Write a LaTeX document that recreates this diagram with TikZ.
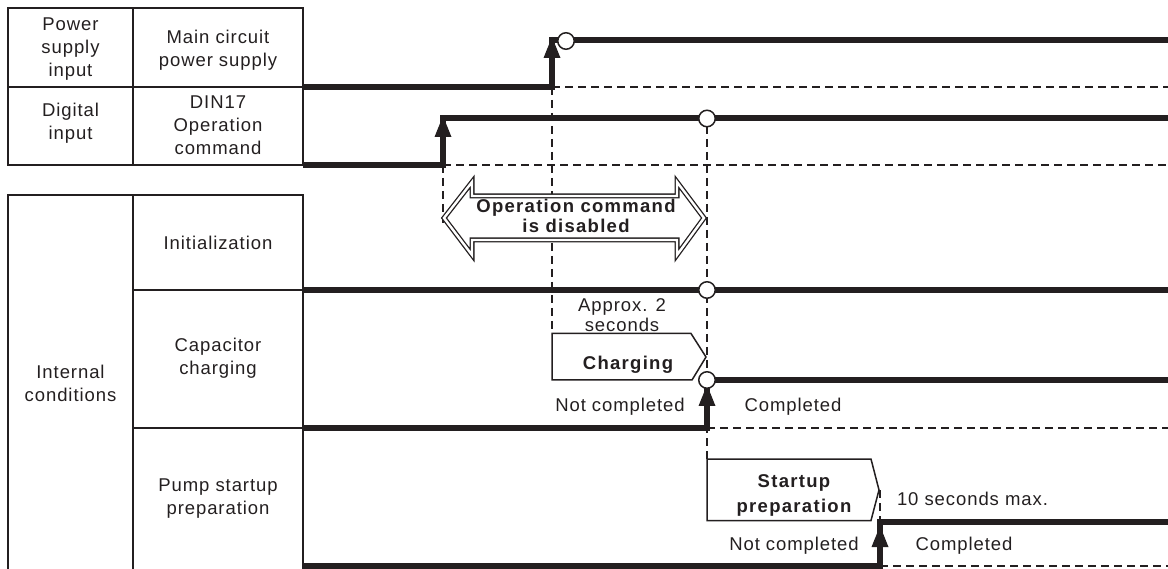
\documentclass[tikz,border=0pt]{standalone}
\usepackage{fontspec}
\setmainfont{Liberation Sans}[LetterSpace=5]
\newfontfamily\heavyface{Liberation Sans}[LetterSpace=7]
\usetikzlibrary{arrows.meta}
\definecolor{ink}{RGB}{35,31,32}
\begin{document}
\begin{tikzpicture}[x=1pt,y=-1pt,
  every node/.style={text=ink, inner sep=0pt, outer sep=0pt},
  lab/.style={font=\fontsize{18.5}{23}\selectfont, align=center},
  blab/.style={font=\heavyface\bfseries\fontsize{18.5}{20}\selectfont, align=center},
  cellbox/.style={draw=ink, line width=1.8},
  divider/.style={draw=ink, line width=2.7},
  signal/.style={draw=ink, line width=5.3, line join=miter},
  guide/.style={draw=ink, line width=1.5, dash pattern=on 8 off 5},
  edgemark/.style={circle, draw=ink, fill=white, line width=1.5, minimum size=16.5},
  phase/.style={draw=ink, line width=1.5, fill=white, line join=miter},
  risehead/.pic={\fill[ink] (0,0) -- (-8.5,21) -- (8.5,21) -- cycle;},
]
\useasboundingbox (0,0) rectangle (1168,569);
\clip (0,0) rectangle (1168,569);

% ---- label table: inputs
\draw[cellbox] (8,8) rectangle (303,165);
\draw[divider] (133,8) -- (133,165);
\draw[divider] (8,87) -- (303,87);
% ---- label table: internal conditions
\draw[cellbox] (8,195) rectangle (303,590);
\draw[divider] (133,195) -- (133,590);
\draw[divider] (133,290) -- (303,290);
\draw[divider] (133,428) -- (303,428);

\node[lab] (psi)  at (70.5,49.5) {Power\\supply\\input};
\node[lab] (mcps) at (218,50.5) {Main circuit\\power supply};
\node[lab] (dgi)  at (70.5,123) {Digital\\input};
\node[lab] (din)  at (218,125.5) {DIN17\\Operation\\command};
\node[lab] (inc)  at (70.5,383) {Internal\\conditions};
\node[lab] (ini)  at (218,243) {Initialization};
\node[lab] (cap)  at (218,358.5) {Capacitor\\charging};
\node[lab] (pump) at (218,499) {Pump startup\\preparation};

% ---- reference levels and timing guides
\draw[guide] (552,87) -- (1168,87);
\draw[guide] (443,165) -- (1168,165);
\draw[guide] (707,428) -- (1168,428);
\draw[guide] (880,566) -- (1168,566);
\draw[guide] (443,165) -- (443,223);
\draw[guide] (552,87) -- (552,334);
\draw[guide] (707,126) -- (707,459);
\draw[guide] (880,490) -- (880,522);

% ---- operation command disabled window
\draw[ink, line width=1.3, double=white, double distance=2.4, fill=white, line join=miter]
  (444,218) -- (472,182) -- (472,196) -- (677,196) -- (677,182) -- (704,218)
  -- (677,255) -- (677,240) -- (472,240) -- (472,255) -- cycle;
\node[blab] (dis) at (576,215.5) {Operation command\\is disabled};

% ---- signals
\draw[signal] (303,87) -- (552,87) -- (552,40) -- (1168,40);
\pic at (552,37) {risehead};
\node[edgemark] (e1) at (566,41) {};

\draw[signal] (303,165) -- (443,165) -- (443,118) -- (1168,118);
\pic at (443,116) {risehead};
\node[edgemark] (e2) at (707,118.5) {};

\draw[signal] (303,290) -- (1168,290);
\node[edgemark] (e3) at (707,290) {};

\draw[signal] (303,428) -- (707,428) -- (707,380) -- (1168,380);
\pic at (707,385) {risehead};

\draw[signal] (303,566) -- (880,566) -- (880,522) -- (1168,522);
\pic at (880,526) {risehead};

% ---- phase boxes
\draw[phase] (552,333.5) -- (691,333.5) -- (706,357) -- (692,380) -- (552,380) -- cycle;
\node[edgemark] (e4) at (707,380) {};
\draw[phase] (707,459) -- (871,459) -- (879,490) -- (871,520.5) -- (707,520.5) -- cycle;

\node[lab, font=\fontsize{18.5}{20}\selectfont] (apx) at (622,315) {Approx. 2\\seconds};
\node[blab, anchor=base] (chg) at (628,370) {Charging};
\node[lab, anchor=base] (nc1) at (620,411.5) {Not completed};
\node[lab, anchor=base] (cm1) at (793,411.5) {Completed};

\node[blab, font=\heavyface\bfseries\fontsize{18.5}{25}\selectfont] (sup) at (794,495.7) {Startup\\preparation};
\node[lab, anchor=base west] (tmax) at (897,505) {10 seconds max.};
\node[lab, anchor=base] (nc2) at (794,550) {Not completed};
\node[lab, anchor=base] (cm2) at (964,550) {Completed};
\end{tikzpicture}
\end{document}
